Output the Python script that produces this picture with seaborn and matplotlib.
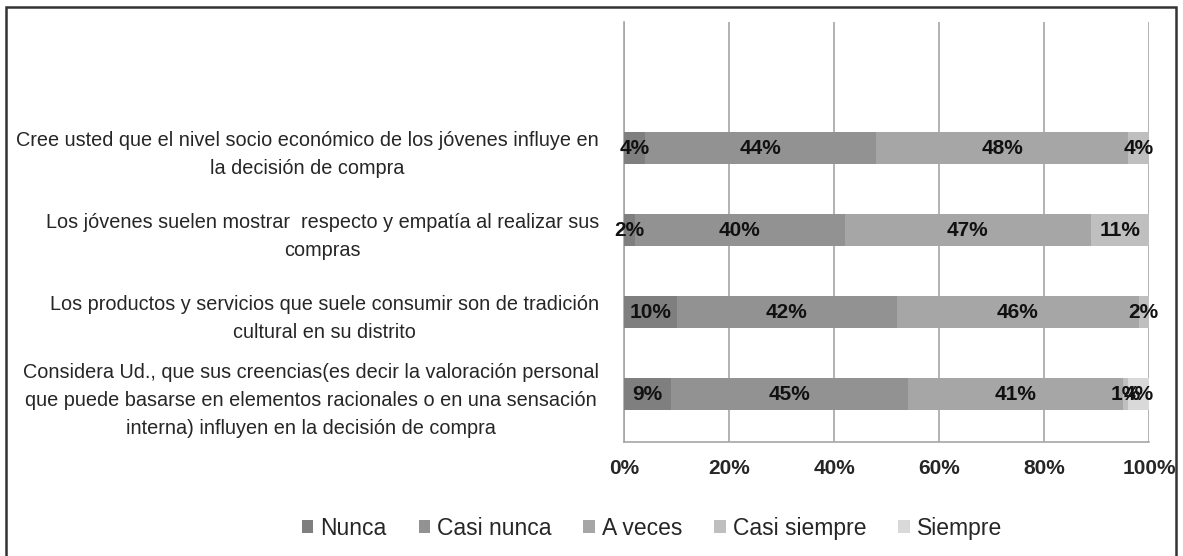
import numpy as np
import pandas as pd
import matplotlib
matplotlib.use("Agg")
import matplotlib.pyplot as plt
import seaborn as sns
from matplotlib.patches import Rectangle, Patch

questions = [
    "Cree usted que el nivel socio económico de los jóvenes influye en\nla decisión de compra",
    "Los jóvenes suelen mostrar  respecto y empatía al realizar sus\ncompras",
    "Los productos y servicios que suele consumir son de tradición\ncultural en su distrito",
    "Considera Ud., que sus creencias(es decir la valoración personal\nque puede basarse en elementos racionales o en una sensación\ninterna) influyen en la decisión de compra",
]
series = ["Nunca", "Casi nunca", "A veces", "Casi siempre", "Siempre"]
nunca = [4, 2, 10, 9]
casi_nunca = [44, 40, 42, 45]
a_veces = [48, 47, 46, 41]
casi_siempre = [4, 11, 2, 1]
siempre = [0, 0, 0, 4]
colors = ["#7f7f7f", "#929292", "#a6a6a6", "#bfbfbf", "#d9d9d9"]
xticks = [0, 20, 40, 60, 80, 100]
xtick_labels = ["0%", "20%", "40%", "60%", "80%", "100%"]

sns.set_theme(style="white")
FONT = ["Liberation Sans Narrow", "Liberation Sans", "DejaVu Sans"]
plt.rcParams["font.family"] = FONT

df = pd.DataFrame({"q": questions, "Nunca": nunca, "Casi nunca": casi_nunca,
                   "A veces": a_veces, "Casi siempre": casi_siempre, "Siempre": siempre})
cum = df[series].cumsum(axis=1)

fig = plt.figure(figsize=(11.83, 5.56), dpi=100)
ax = fig.add_axes([0.5275, 0.205, 0.9713 - 0.5275, 0.9604 - 0.205])

for i in range(len(series) - 1, -1, -1):
    s = series[i]
    d = pd.DataFrame({"q": df["q"], "v": cum[s]})
    sns.barplot(data=d, x="v", y="q", order=questions, color=colors[i],
                orient="h", width=0.39, ax=ax, saturation=1,
                edgecolor="none", linewidth=0, zorder=3)

# labels
for r in range(len(questions)):
    start = 0
    for s in series:
        v = df.loc[r, s]
        if v > 0:
            ax.text(start + v / 2, r, f"{v}%", ha="center", va="center",
                    fontsize=15, fontweight="bold", color="#111111",
                    family=FONT, zorder=5)
        start += v

ax.set_xlim(0, 100)
ax.set_ylim(3.585, -1.54)
ax.set_xticks(xticks)
ax.set_xticklabels(xtick_labels, fontsize=15, fontweight="bold", family=FONT)
ax.tick_params(axis="x", length=0, pad=12)
ax.tick_params(axis="y", length=0, pad=18)
ax.set_yticks(range(len(questions)))
ax.set_yticklabels(questions, fontsize=14.3, family=FONT, multialignment="center",
                   linespacing=1.6)
ax.set_xlabel("")
ax.set_ylabel("")
ax.xaxis.grid(True, color="#a6a6a6", linewidth=1.2, zorder=0)
ax.set_axisbelow(True)
for sp in ["top", "right"]:
    ax.spines[sp].set_visible(False)
for sp in ["left", "bottom"]:
    ax.spines[sp].set_color("#a6a6a6")
    ax.spines[sp].set_linewidth(1.2)

handles = [Patch(facecolor=c, edgecolor="none") for c in colors]
fig.legend(handles, series, loc="center", bbox_to_anchor=(0.551, 0.05), ncol=5,
           frameon=False, prop={"family": FONT, "size": 16.5}, handlelength=0.5,
           handleheight=0.5, handletextpad=0.3, columnspacing=1.4)

fig.patches.append(Rectangle((6 / 1183, -0.05), (1176 - 6) / 1183, 1 - 7 / 556 + 0.05,
                             transform=fig.transFigure, fill=False,
                             edgecolor="#333333", linewidth=1.8))

fig.savefig("out.png", dpi=100, facecolor="white")
